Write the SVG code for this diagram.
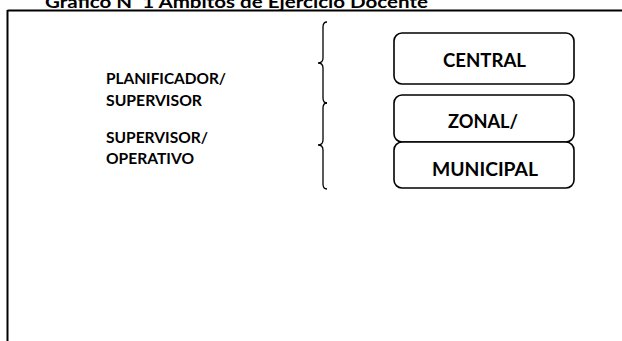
<svg xmlns="http://www.w3.org/2000/svg" width="622" height="341" viewBox="0 0 622 341">
<style>
.t{font-family:Lato,"Open Sans","Liberation Sans",sans-serif;font-weight:bold;fill:#000}
.lbl{font-size:16px}
.box{fill:#fff;stroke:#000;stroke-width:1.6}
.bt{font-size:18.5px;text-anchor:middle}
.br{fill:none;stroke:#000;stroke-width:1.3}
</style>
<rect width="622" height="341" fill="#fff"/>
<g id="frame">
<line x1="7.5" y1="10.5" x2="622" y2="10.5" stroke="#000" stroke-width="2"/>
<line x1="7.5" y1="10" x2="7.5" y2="341" stroke="#000" stroke-width="2"/>
<text class="t" x="45" y="8" font-size="17" textLength="383" lengthAdjust="spacingAndGlyphs" style="white-space:pre">Grafico N  1 Ambitos de Ejercicio Docente</text>
</g>
<g id="labels">
<text class="t lbl" x="106" y="84" textLength="120" lengthAdjust="spacingAndGlyphs">PLANIFICADOR/</text>
<text class="t lbl" x="106" y="106" textLength="96" lengthAdjust="spacingAndGlyphs">SUPERVISOR</text>
<text class="t lbl" x="106" y="143" textLength="102" lengthAdjust="spacingAndGlyphs">SUPERVISOR/</text>
<text class="t lbl" x="106" y="164" textLength="88" lengthAdjust="spacingAndGlyphs">OPERATIVO</text>
</g>
<g id="connectors">
<path class="br" d="M327,22 Q323,22 323,27 L323,58 Q323,63 318,63 Q323,63 323,68 L323,98 Q323,103 327,103"/>
<path class="br" d="M327,103 Q323,103 323,108 L323,140 Q323,145 318,145 Q323,145 323,150 L323,184 Q323,189 327,189"/>
</g>
<g id="central">
<rect class="box" x="394" y="33" width="180" height="51" rx="8"/>
<text class="t bt" x="484.5" y="66.5" textLength="83" lengthAdjust="spacingAndGlyphs">CENTRAL</text>
</g>
<g id="zonal">
<rect class="box" x="394" y="95" width="180" height="47" rx="8"/>
<text class="t bt" x="483" y="127.5" textLength="70" lengthAdjust="spacingAndGlyphs">ZONAL/</text>
</g>
<g id="municipal">
<rect class="box" x="394" y="142" width="180" height="46" rx="8"/>
<text class="t bt" x="485" y="176" textLength="106" lengthAdjust="spacingAndGlyphs">MUNICIPAL</text>
</g>
</svg>
